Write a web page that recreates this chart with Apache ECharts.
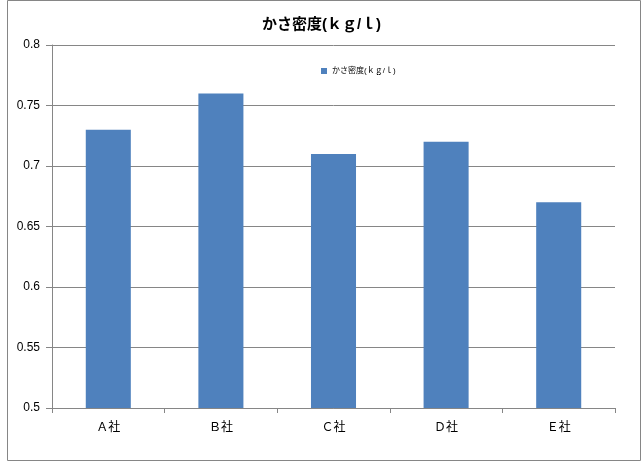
<!DOCTYPE html>
<html>
<head>
<meta charset="utf-8">
<script src="https://cdn.jsdelivr.net/npm/echarts@6/dist/echarts.min.js"></script>
<style>
  html, body { margin: 0; padding: 0; background: #fff; }
  #chart { width: 643px; height: 463px; }
</style>
</head>
<body>
<div id="chart"></div>
<script>
const categories = ['Ａ社', 'Ｂ社', 'Ｃ社', 'Ｄ社', 'Ｅ社'];
const bulkDensity = [0.73, 0.76, 0.71, 0.72, 0.67];
const yTicks = [0.5, 0.55, 0.6, 0.65, 0.7, 0.75, 0.8];

const font = '"Liberation Sans", "Noto Sans CJK JP", sans-serif';
const chart = echarts.init(document.getElementById('chart'));

chart.setOption({
    animation: false,
    graphic: [{
        type: 'rect',
        shape: { x: 7.5, y: 0.5, width: 633, height: 460 },
        style: { fill: 'none', stroke: '#868686', lineWidth: 1 }
    }],
    title: {
        text: 'かさ密度(ｋｇ/ｌ)',
        left: 'center',
        top: 12,
        textStyle: { fontFamily: font, fontSize: 15, fontWeight: 'bold', color: '#000' }
    },
    legend: {
        data: ['かさ密度(ｋｇ/ｌ)'],
        left: 316,
        top: 62,
        itemWidth: 6,
        itemHeight: 6,
        itemGap: 4,
        icon: 'rect',
        textStyle: { fontFamily: font, fontSize: 8, color: '#000' }
    },
    grid: { left: 52, right: 28, top: 45, bottom: 55, containLabel: false },
    xAxis: {
        type: 'category',
        data: categories,
        axisLine: { lineStyle: { color: '#868686' } },
        axisTick: { show: true, alignWithLabel: false, length: 5, lineStyle: { color: '#868686' } },
        axisLabel: { fontFamily: font, fontSize: 12, color: '#000', margin: 14 }
    },
    yAxis: {
        type: 'value',
        min: yTicks[0],
        max: yTicks[yTicks.length - 1],
        interval: 0.05,
        axisLine: { show: true, lineStyle: { color: '#868686' } },
        axisTick: { show: true, length: 6, lineStyle: { color: '#868686' } },
        axisLabel: {
            fontFamily: font, fontSize: 12, color: '#000', margin: 12,
            formatter: v => yTicks.find(t => Math.abs(t - v) < 1e-9)
        },
        splitLine: { lineStyle: { color: '#868686' } }
    },
    series: [{
        name: 'かさ密度(ｋｇ/ｌ)',
        type: 'bar',
        data: bulkDensity,
        barCategoryGap: '60%',
        itemStyle: { color: '#4F81BD' }
    }]
});
</script>
</body>
</html>
